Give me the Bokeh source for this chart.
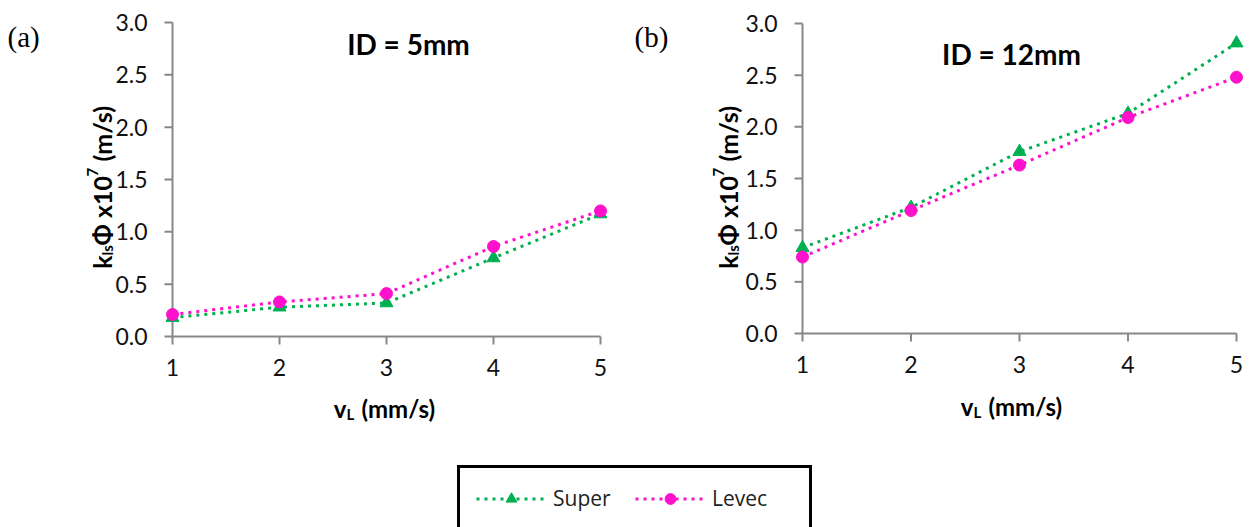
from math import pi

from bokeh.core.properties import value
from bokeh.embed import file_html
from bokeh.layouts import column, row
from bokeh.models import Label, Legend, LegendItem, Range1d
from bokeh.plotting import figure
from bokeh.resources import INLINE

# ---- data -------------------------------------------------------------
v_l = [1, 2, 3, 4, 5]                       # liquid velocity (mm/s)
super_5mm = [0.18, 0.28, 0.32, 0.75, 1.17]  # k_ls*phi x1e7 (m/s), ID = 5 mm
levec_5mm = [0.21, 0.33, 0.41, 0.86, 1.20]
super_12mm = [0.83, 1.22, 1.76, 2.13, 2.81]  # ID = 12 mm
levec_12mm = [0.74, 1.19, 1.63, 2.09, 2.48]

x_ticks = [1, 2, 3, 4, 5]
y_ticks = [0.0, 0.5, 1.0, 1.5, 2.0, 2.5, 3.0]
x_tick_labels = ["1", "2", "3", "4", "5"]
y_tick_labels = ["0.0", "0.5", "1.0", "1.5", "2.0", "2.5", "3.0"]
series_names = ["Super", "Levec"]
panel_titles = ["ID = 5mm", "ID = 12mm"]
panel_tags = ["(a)", "(b)"]

# ---- styles -----------------------------------------------------------
GREEN = "#00B050"
PINK = "#FF10CC"
AXIS = "#878787"
TEXT = "#111111"
SANS = "Lato"
SERIF = "Liberation Serif"
DOTS = "3 5"
TICK = 8          # tick length, px
FIG_W, FIG_H = 625, 440


def make_panel(x1_px, x5_px, y0_px, y3_px):
    """Figure whose plotting area fills the whole canvas; the value box
    x = 1..5, y = 0..3 lands on the given pixel positions."""
    ppx = (x5_px - x1_px) / 4.0
    ppy = (y0_px - y3_px) / 3.0
    p = figure(width=FIG_W, height=FIG_H,
               x_range=Range1d(1 - x1_px / ppx, 1 + (FIG_W - x1_px) / ppx),
               y_range=Range1d((y0_px - FIG_H) / ppy, y0_px / ppy),
               x_axis_type=None, y_axis_type=None, min_border=0,
               toolbar_location=None, output_backend="svg")
    p.outline_line_color = None
    p.grid.grid_line_color = None
    p.background_fill_color = "white"
    p.border_fill_color = "white"

    def to_data(px, py):
        return 1 + (px - x1_px) / ppx, (y0_px - py) / ppy

    # axis lines
    p.segment(x0=[x_ticks[0], x_ticks[0]], y0=[y_ticks[0], y_ticks[0]],
              x1=[x_ticks[-1], x_ticks[0]], y1=[y_ticks[0], y_ticks[-1]],
              line_color=AXIS, line_width=2)
    # outward tick marks
    p.segment(x0=[x_ticks[0] - TICK / ppx] * len(y_ticks), y0=y_ticks,
              x1=[x_ticks[0]] * len(y_ticks), y1=y_ticks,
              line_color=AXIS, line_width=2)
    p.segment(x0=x_ticks, y0=[y_ticks[0]] * len(x_ticks),
              x1=x_ticks, y1=[y_ticks[0] - TICK / ppy] * len(x_ticks),
              line_color=AXIS, line_width=2)
    # tick labels
    p.text(x=[x_ticks[0] - (TICK + 17) / ppx] * len(y_ticks), y=y_ticks,
           text=y_tick_labels, text_align="right", text_baseline="middle",
           text_font=value(SANS), text_font_size="23px", text_color=TEXT)
    p.text(x=x_ticks, y=[y_ticks[0] - (TICK + 14) / ppy] * len(x_ticks),
           text=x_tick_labels, text_align="center", text_baseline="top",
           text_font=value(SANS), text_font_size="23px", text_color=TEXT)
    return p, to_data


def put(p, to_data, px, py, text, size, bold=False, font=SANS, align="left",
        baseline="alphabetic", angle=0.0):
    x, y = to_data(px, py)
    p.add_layout(Label(x=x, y=y, text=text, text_font=font,
                       text_font_size=f"{size}px",
                       text_font_style="bold" if bold else "normal",
                       text_color="black", text_align=align,
                       text_baseline=baseline, angle=angle))


def draw_series(p, ys_super, ys_levec):
    p.line(v_l, ys_super, line_color=GREEN, line_width=3, line_dash=DOTS)
    p.scatter(v_l, ys_super, marker="triangle", size=13, color=GREEN)
    p.line(v_l, ys_levec, line_color=PINK, line_width=3, line_dash=DOTS)
    p.scatter(v_l, ys_levec, marker="circle", size=12, color=PINK)


def y_label(p, to_data, base_x, bottom_y):
    """k_ls Phi x10^7 (m/s), written bottom to top."""
    big, small = 25, 15
    up = pi / 2
    k_end = bottom_y - 14
    put(p, to_data, base_x, k_end, "k", big, bold=True, align="right", angle=up)
    put(p, to_data, base_x + 5, k_end, "ls", small, bold=True, angle=up)
    y = k_end - 10
    put(p, to_data, base_x, y, "\u03a6 x10", big, bold=True, angle=up)
    y -= 69
    put(p, to_data, base_x - 9, y, "7", small, bold=True, angle=up)
    y -= 15
    put(p, to_data, base_x, y, "(m/s)", big, bold=True, angle=up)


def x_label(p, to_data, start_x, base_y):
    """v_L (mm/s)."""
    v_end = start_x + 12
    put(p, to_data, v_end, base_y, "v", 24, bold=True, align="right")
    put(p, to_data, v_end, base_y + 5, "L", 15, bold=True)
    put(p, to_data, v_end + 15, base_y, "(mm/s)", 24, bold=True)


# ---- panel (a): ID = 5 mm ---------------------------------------------
p1, d1 = make_panel(172, 600, 336, 22)
draw_series(p1, super_5mm, levec_5mm)
put(p1, d1, 7, 36, panel_tags[0], 29, font=SERIF)
put(p1, d1, 408, 43, panel_titles[0], 28, bold=True, align="center")
y_label(p1, d1, 101, 269)
x_label(p1, d1, 334, 408)

# ---- panel (b): ID = 12 mm --------------------------------------------
p2, d2 = make_panel(177, 611, 333, 23)
draw_series(p2, super_12mm, levec_12mm)
put(p2, d2, 9, 36, panel_tags[1], 29, font=SERIF)
put(p2, d2, 386, 53, panel_titles[1], 28, bold=True, align="center")
y_label(p2, d2, 102, 269)
x_label(p2, d2, 336, 406)

# ---- shared legend ----------------------------------------------------
p3 = figure(width=1250, height=87, x_range=Range1d(0, 1), y_range=Range1d(0, 1),
            x_axis_type=None, y_axis_type=None, min_border=0,
            toolbar_location=None, output_backend="svg")
p3.outline_line_color = None
p3.grid.grid_line_color = None
off = [-5, -4]   # legend-only renderers, kept outside the visible range
l_sup = p3.line(off, off, line_color=GREEN, line_width=3, line_dash=DOTS)
m_sup = p3.scatter(off, off, marker="triangle", size=13, color=GREEN)
l_lev = p3.line(off, off, line_color=PINK, line_width=3, line_dash=DOTS)
m_lev = p3.scatter(off, off, marker="circle", size=12, color=PINK)
legend = Legend(
    items=[LegendItem(label=series_names[0], renderers=[l_sup, m_sup]),
           LegendItem(label=series_names[1], renderers=[l_lev, m_lev])],
    location=(457, -4), orientation="horizontal",
    glyph_width=70, glyph_height=27, label_standoff=7, label_width=81,
    spacing=1, padding=16, margin=0,
    border_line_color="black", border_line_width=3, border_line_alpha=1.0,
    label_text_font="Open Sans", label_text_font_size="21px",
    label_text_color="#222222", background_fill_alpha=1.0)
p3.add_layout(legend)

layout = column(row(p1, p2, spacing=0), p3, spacing=0)

with open("out.html", "w") as fh:
    fh.write(file_html(layout, INLINE))
